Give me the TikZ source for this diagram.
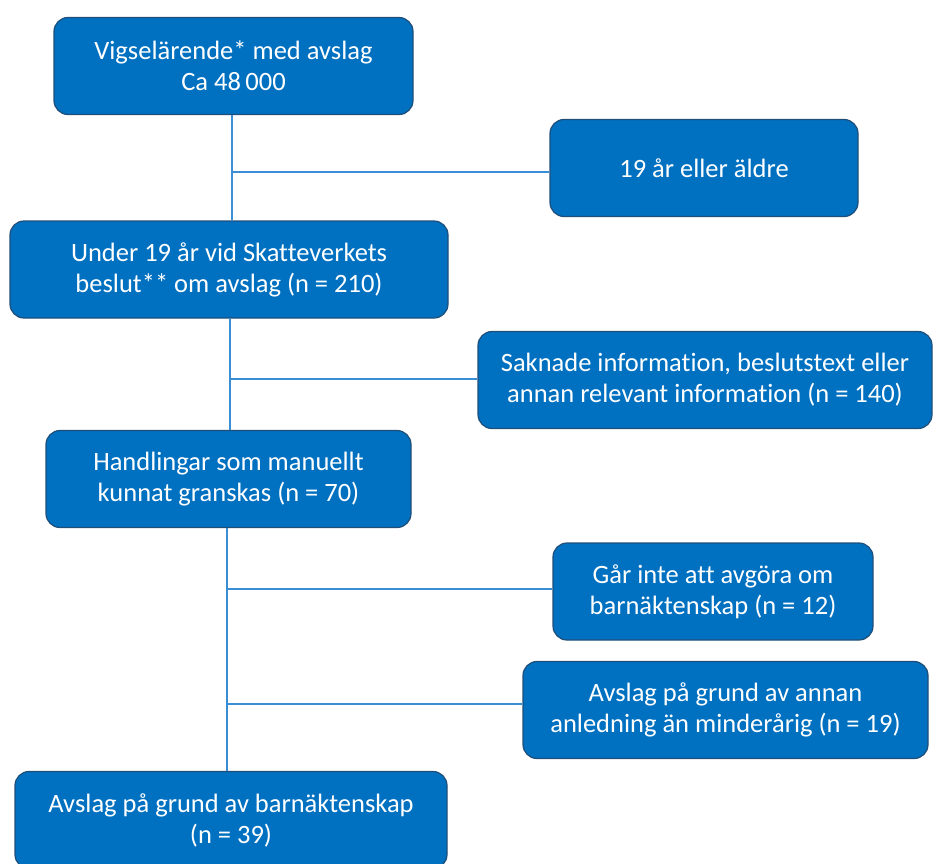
\documentclass[tikz,border=0pt]{standalone}
\usepackage{fontspec}
\setmainfont[Ligatures=NoCommon]{Carlito}
\usepackage{tikz}

\definecolor{boxfill}{RGB}{0,112,192}
\definecolor{boxline}{RGB}{31,78,121}
\definecolor{linkblue}{RGB}{58,142,214}

\begin{document}
\begin{tikzpicture}[x=1pt,y=-1pt,
    box/.style={draw=boxline,line width=1.2pt,fill=boxfill,rounded corners=14pt,
      text=white,align=center,inner sep=0pt,minimum height=97pt,
      font=\fontsize{26.5}{31}\selectfont},
    link/.style={draw=linkblue,line width=1.8pt}]
      \useasboundingbox (0,0) rectangle (933,863);
      \node[box,minimum width=359pt] (start) at (233.5,66)
        {Vigselärende* med avslag\\Ca 48\,000};
      \node[box,minimum width=308pt] (older) at (704,168)
        {19 år eller äldre};
      \node[box,minimum width=438pt] (under) at (229,269.5)
        {Under 19 år vid Skatteverkets\\beslut** om avslag (n = 210)};
      \node[box,minimum width=454pt] (missing) at (705,380)
        {Saknade information, beslutstext eller\\annan relevant information (n = 140)};
      \node[box,minimum width=365pt] (manual) at (228.5,479)
        {Handlingar som manuellt\\kunnat granskas (n = 70)};
      \node[box,minimum width=320pt] (unclear) at (713,591.5)
        {Går inte att avgöra om\\barnäktenskap (n = 12)};
      \node[box,minimum width=405pt] (other) at (725.5,710)
        {Avslag på grund av annan\\anledning än minderårig (n = 19)};
      \node[box,minimum width=432pt] (child) at (231,820)
        {Avslag på grund av barnäktenskap\\(n = 39)};
      \coordinate (j1) at (232,172);
      \coordinate (j2) at (230,379);
      \coordinate (j3) at (227,589);
      \coordinate (j4) at (227,704);
      \draw[link] (start.south -| j1) -- (under.north -| j1);
      \draw[link] (j1) -- (older.west |- j1);
      \draw[link] (under.south -| j2) -- (manual.north -| j2);
      \draw[link] (j2) -- (missing.west |- j2);
      \draw[link] (manual.south -| j3) -- (child.north -| j3);
      \draw[link] (j3) -- (unclear.west |- j3);
      \draw[link] (j4) -- (other.west |- j4);
    \end{tikzpicture}
\end{document}
